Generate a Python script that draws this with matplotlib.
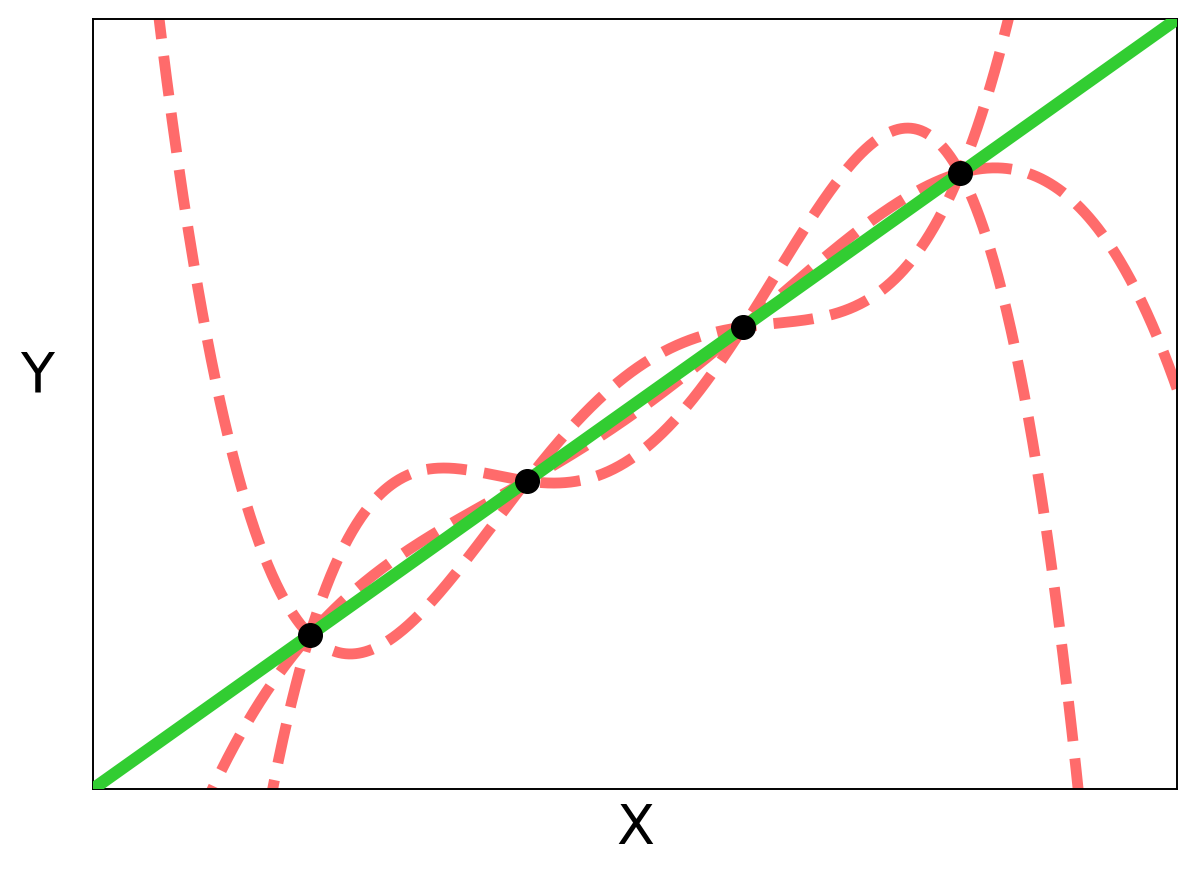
import numpy as np
import matplotlib
matplotlib.use("Agg")
import matplotlib.pyplot as plt

# Data: four points lying on y = x, and three alternative curves through them
point_x = [1, 2, 3, 4]
point_y = [1, 2, 3, 4]
# each alternative curve: y = x + k * (x-1)(x-2)(x-3)(x-4)
curve_coeffs = [0.4, -0.6, -0.1]
x_range = [0, 5]
y_range = [0, 5]
x_label = "X"
y_label = "Y"

W, H, DPI = 1197, 875, 100
fig = plt.figure(figsize=(W / DPI, H / DPI), dpi=DPI)
ax = fig.add_axes([93 / W, 1 - 789 / H, (1177 - 93) / W, (789 - 19) / H])

xs = np.linspace(x_range[0], x_range[1], 1000)
prod = np.ones_like(xs)
for px in point_x:
    prod = prod * (xs - px)
for k in curve_coeffs:
    ax.plot(xs, xs + k * prod, color="#FF6B6B", lw=7.8, ls="--", zorder=2)

ax.plot(x_range, y_range, color="#32CD32", lw=9, zorder=3, solid_capstyle="butt")
ax.plot(point_x, point_y, "o", color="black", ms=17, zorder=4)

ax.set_xlim(*x_range)
ax.set_ylim(*y_range)
ax.set_xticks([])
ax.set_yticks([])
for s in ax.spines.values():
    s.set_linewidth(1.4)
ax.set_xlabel(x_label, fontsize=40, labelpad=9)
ax.set_ylabel(y_label, fontsize=40, rotation=0, labelpad=40)

fig.savefig("out.png", dpi=DPI)
